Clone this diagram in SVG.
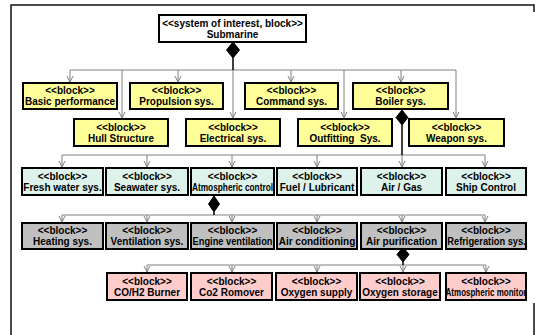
<svg xmlns="http://www.w3.org/2000/svg" width="535" height="335" viewBox="0 0 535 335">
<style>
.b{stroke:#000;stroke-width:2}
.top{fill:#fff}
.y{fill:#FFFF99}
.c{fill:#DDF2EA}
.g{fill:#C0C0C0}
.p{fill:#FFCCCC}
text{font-family:"Liberation Sans",Arial,sans-serif;font-weight:bold;font-size:10px;fill:#000;text-anchor:middle}
.w{fill:none;stroke:#808080;stroke-width:1}
.k{fill:none;stroke:#000;stroke-width:1.5}
.d{fill:#000;stroke:#000;stroke-width:1}
.frame{fill:none;stroke:#111;stroke-width:1.5}
</style>
<defs>
<marker id="arr" markerUnits="userSpaceOnUse" markerWidth="8" markerHeight="8" viewBox="0 0 8 8" refX="7" refY="4" orient="auto">
<path d="M1,1 L7,4 L1,7" fill="none" stroke="#808080" stroke-width="1"/>
</marker>
</defs>
<g id="frame">
<path class="frame" d="M11,335 L11,5 L534,5 L534,12"/>
<path class="frame" d="M534,303 L534,335"/>
</g>
<g id="connectors">
<path class="w" d="M70,70 L456,70"/>
<path class="w" d="M70,70 L70,82" marker-end="url(#arr)"/>
<path class="w" d="M122,70 L122,118" marker-end="url(#arr)"/>
<path class="w" d="M178,70 L178,82" marker-end="url(#arr)"/>
<path class="w" d="M233,70 L233,118" marker-end="url(#arr)"/>
<path class="w" d="M291,70 L291,82" marker-end="url(#arr)"/>
<path class="w" d="M344,70 L344,118" marker-end="url(#arr)"/>
<path class="w" d="M401,70 L401,82" marker-end="url(#arr)"/>
<path class="w" d="M456,70 L456,118" marker-end="url(#arr)"/>
<path class="k" d="M233,58 L233,70"/>
<polygon class="d" points="233,42 239.5,50 233,58 226.5,50"/>

<path class="w" d="M62,155 L485,155"/>
<path class="w" d="M62,155 L62,167" marker-end="url(#arr)"/>
<path class="w" d="M147,155 L147,167" marker-end="url(#arr)"/>
<path class="w" d="M232,155 L232,167" marker-end="url(#arr)"/>
<path class="w" d="M317,155 L317,167" marker-end="url(#arr)"/>
<path class="w" d="M402,155 L402,167" marker-end="url(#arr)"/>
<path class="w" d="M485,155 L485,167" marker-end="url(#arr)"/>
<path class="k" d="M402,125 L402,155"/>
<polygon class="d" points="402,110 408,117.5 402,125 396,117.5"/>

<path class="w" d="M62,215 L485,215"/>
<path class="w" d="M62,215 L62,222" marker-end="url(#arr)"/>
<path class="w" d="M147,215 L147,222" marker-end="url(#arr)"/>
<path class="w" d="M232,215 L232,222" marker-end="url(#arr)"/>
<path class="w" d="M317,215 L317,222" marker-end="url(#arr)"/>
<path class="w" d="M402,215 L402,222" marker-end="url(#arr)"/>
<path class="w" d="M485,215 L485,222" marker-end="url(#arr)"/>
<path class="k" d="M214,212 L214,215"/>
<polygon class="d" points="214,196 219.5,204 214,212 208.5,204"/>

<path class="w" d="M147,265 L486,265"/>
<path class="w" d="M147,265 L147,272" marker-end="url(#arr)"/>
<path class="w" d="M232,265 L232,272" marker-end="url(#arr)"/>
<path class="w" d="M317,265 L317,272" marker-end="url(#arr)"/>
<path class="w" d="M403,265 L403,272" marker-end="url(#arr)"/>
<path class="w" d="M486,265 L486,272" marker-end="url(#arr)"/>
<path class="k" d="M403,262 L403,265"/>
<polygon class="d" points="403,247 409,254.5 403,262 397,254.5"/>
</g>

<g id="submarine"><rect class="b top" x="159" y="15" width="147" height="27"/><text x="232.5" y="26.5">&lt;&lt;system of interest, block&gt;&gt;</text><text x="232.5" y="37.5">Submarine</text></g>

<g id="basic-performance"><rect class="b y" x="23" y="83" width="94" height="26"/><text x="70" y="94">&lt;&lt;block&gt;&gt;</text><text x="70" y="105">Basic performance</text></g>
<g id="propulsion"><rect class="b y" x="130" y="83" width="93" height="26"/><text x="176.5" y="94">&lt;&lt;block&gt;&gt;</text><text x="176.5" y="105">Propulsion sys.</text></g>
<g id="command"><rect class="b y" x="245" y="83" width="93" height="26"/><text x="291.5" y="94">&lt;&lt;block&gt;&gt;</text><text x="291.5" y="105">Command sys.</text></g>
<g id="boiler"><rect class="b y" x="353" y="83" width="95" height="26"/><text x="400.5" y="94">&lt;&lt;block&gt;&gt;</text><text x="400.5" y="105">Boiler sys.</text></g>

<g id="hull"><rect class="b y" x="74" y="119" width="94" height="27"/><text x="121" y="130.5">&lt;&lt;block&gt;&gt;</text><text x="121" y="141.5">Hull Structure</text></g>
<g id="electrical"><rect class="b y" x="186" y="119" width="94" height="27"/><text x="233" y="130.5">&lt;&lt;block&gt;&gt;</text><text x="233" y="141.5">Electrical sys.</text></g>
<g id="outfitting"><rect class="b y" x="298" y="119" width="94" height="27"/><text x="345" y="130.5">&lt;&lt;block&gt;&gt;</text><text x="345" y="141.5" style="white-space:pre">Outfitting  Sys.</text></g>
<g id="weapon"><rect class="b y" x="409" y="119" width="95" height="27"/><text x="456.5" y="130.5">&lt;&lt;block&gt;&gt;</text><text x="456.5" y="141.5">Weapon sys.</text></g>

<g id="fresh-water"><rect class="b c" x="22" y="168" width="81" height="27"/><text x="62.5" y="179.5">&lt;&lt;block&gt;&gt;</text><text x="62.5" y="190.5">Fresh water sys.</text></g>
<g id="seawater"><rect class="b c" x="106" y="168" width="82" height="27"/><text x="147" y="179.5">&lt;&lt;block&gt;&gt;</text><text x="147" y="190.5">Seawater sys.</text></g>
<g id="atmospheric-control"><rect class="b c" x="191" y="168" width="83" height="27"/><text x="232.5" y="179.5">&lt;&lt;block&gt;&gt;</text><text transform="translate(232.5,190.5) scale(0.83,1)" x="0" y="0">Atmospheric control</text></g>
<g id="fuel"><rect class="b c" x="277" y="168" width="80" height="27"/><text x="317" y="179.5">&lt;&lt;block&gt;&gt;</text><text x="317" y="190.5">Fuel / Lubricant</text></g>
<g id="air-gas"><rect class="b c" x="361" y="168" width="81" height="27"/><text x="401.5" y="179.5">&lt;&lt;block&gt;&gt;</text><text x="401.5" y="190.5">Air / Gas</text></g>
<g id="ship-control"><rect class="b c" x="446" y="168" width="80" height="27"/><text x="486" y="179.5">&lt;&lt;block&gt;&gt;</text><text x="486" y="190.5">Ship Control</text></g>

<g id="heating"><rect class="b g" x="22" y="223" width="81" height="26"/><text x="62.5" y="234">&lt;&lt;block&gt;&gt;</text><text x="62.5" y="245">Heating sys.</text></g>
<g id="ventilation"><rect class="b g" x="106" y="223" width="82" height="26"/><text x="147" y="234">&lt;&lt;block&gt;&gt;</text><text x="147" y="245">Ventilation sys.</text></g>
<g id="engine-ventilation"><rect class="b g" x="191" y="223" width="83" height="26"/><text x="232.5" y="234">&lt;&lt;block&gt;&gt;</text><text transform="translate(232.5,245) scale(0.93,1)" x="0" y="0">Engine ventilation</text></g>
<g id="air-conditioning"><rect class="b g" x="277" y="223" width="80" height="26"/><text x="317" y="234">&lt;&lt;block&gt;&gt;</text><text x="317" y="245">Air conditioning</text></g>
<g id="air-purification"><rect class="b g" x="361" y="223" width="81" height="26"/><text x="401.5" y="234">&lt;&lt;block&gt;&gt;</text><text x="401.5" y="245">Air purification</text></g>
<g id="refrigeration"><rect class="b g" x="446" y="223" width="80" height="26"/><text x="486" y="234">&lt;&lt;block&gt;&gt;</text><text transform="translate(486.5,245) scale(0.93,1)" x="0" y="0">Refrigeration sys.</text></g>

<g id="co-h2-burner"><rect class="b p" x="107" y="273" width="80" height="27"/><text x="147" y="284.5">&lt;&lt;block&gt;&gt;</text><text x="147" y="295.5">CO/H2 Burner</text></g>
<g id="co2-romover"><rect class="b p" x="191" y="273" width="81" height="27"/><text x="231.5" y="284.5">&lt;&lt;block&gt;&gt;</text><text x="231.5" y="295.5">Co2 Romover</text></g>
<g id="oxygen-supply"><rect class="b p" x="276" y="273" width="81" height="27"/><text x="316.5" y="284.5">&lt;&lt;block&gt;&gt;</text><text x="316.5" y="295.5">Oxygen supply</text></g>
<g id="oxygen-storage"><rect class="b p" x="360" y="273" width="80" height="27"/><text x="400" y="284.5">&lt;&lt;block&gt;&gt;</text><text x="400" y="295.5">Oxygen storage</text></g>
<g id="atmospheric-monitor"><rect class="b p" x="446" y="273" width="80" height="27"/><text x="486" y="284.5">&lt;&lt;block&gt;&gt;</text><text transform="translate(486,295.5) scale(0.8,1)" x="0" y="0">Atmospheric monitor</text></g>
</svg>
